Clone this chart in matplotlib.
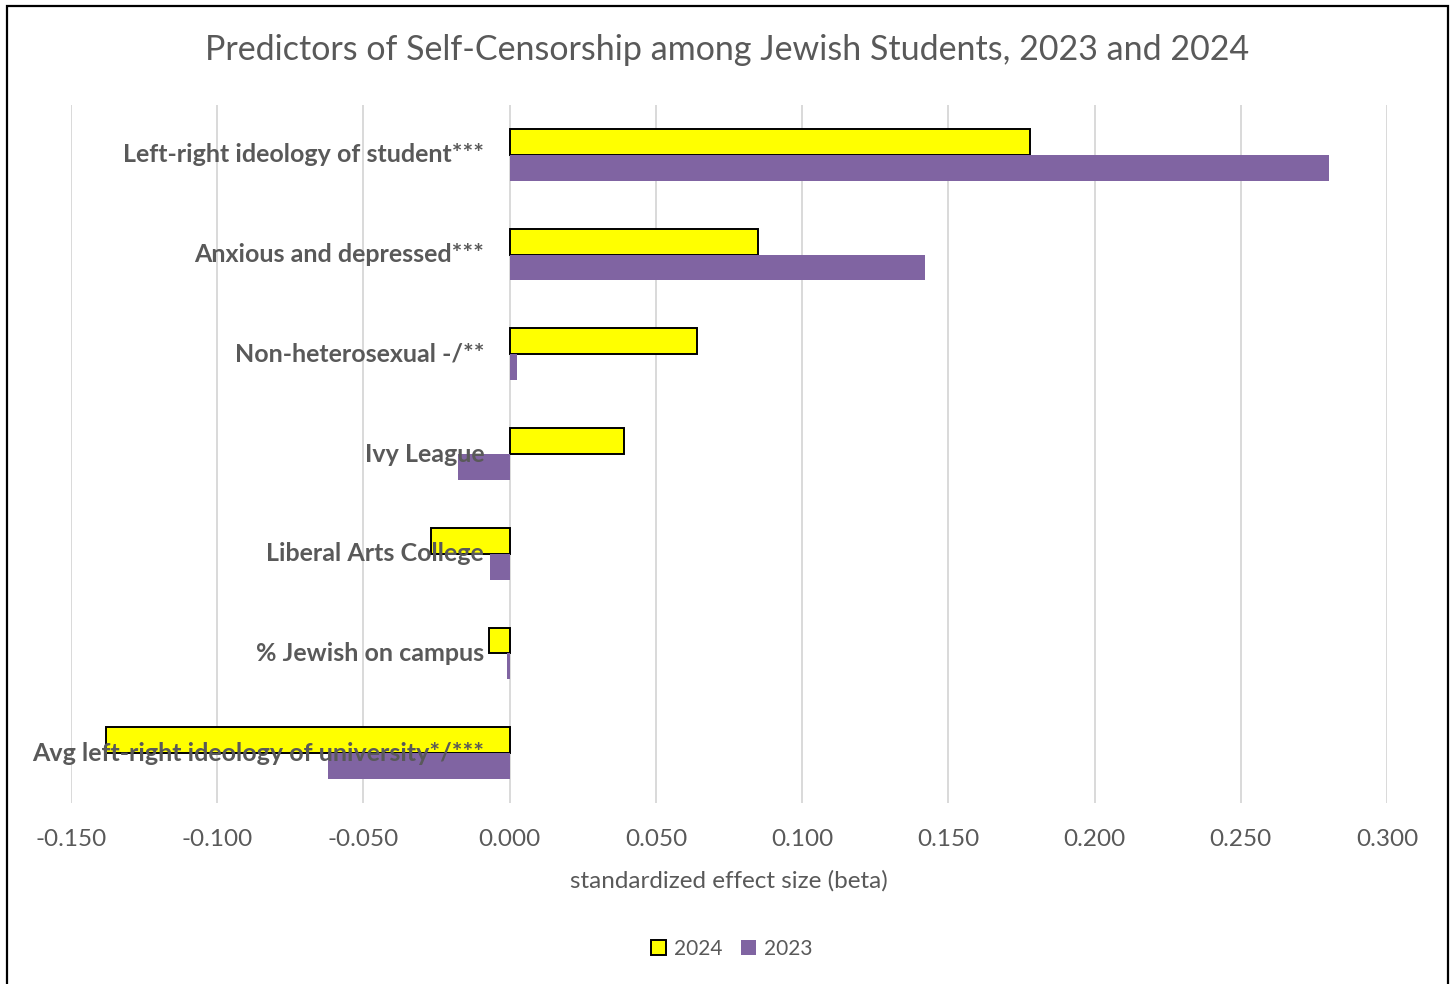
import numpy as np
import matplotlib.pyplot as plt
from matplotlib.patches import Patch, Rectangle

plt.rcParams["font.family"] = ["Lato", "DejaVu Sans"]

# predictors, top to bottom
predictors = [
    "Left-right ideology of student***",
    "Anxious and depressed***",
    "Non-heterosexual -/**",
    "Ivy League",
    "Liberal Arts College",
    "% Jewish on campus",
    "Avg left-right ideology of university*/***",
]
beta_2024 = [0.178, 0.085, 0.064, 0.039, -0.027, -0.007, -0.138]
beta_2023 = [0.280, 0.142, 0.0025, -0.0175, -0.0067, -0.0009, -0.062]
xticks = [-0.15, -0.10, -0.05, 0.0, 0.05, 0.10, 0.15, 0.20, 0.25, 0.30]

GREY = "#595959"
YELLOW = "#FFFF00"
PURPLE = "#8064A2"

fig = plt.figure(figsize=(14.55, 9.84), dpi=100)
ax = fig.add_axes([71 / 1455, 1 - 803 / 984, (1387 - 71) / 1455, (803 - 105) / 984])

n = len(predictors)
y = np.arange(n)[::-1].astype(float)
h = 0.26

ax.barh(y + h / 2, beta_2024, height=h, color=YELLOW, edgecolor="black",
        linewidth=1.4, zorder=3, label="2024")
ax.barh(y - h / 2, beta_2023, height=h, color=PURPLE, edgecolor="none",
        zorder=3, label="2023")

# category names sit just left of the zero line, on top of the bars
for yi, name in zip(y, predictors):
    ax.text(-0.0087, yi, name, ha="right", va="center", fontsize=18,
            fontweight="bold", color=GREY, zorder=5)

ax.set_xlim(-0.15, 0.30)
ax.set_ylim(-0.5, n - 0.5)
ax.set_xticks(xticks)
ax.set_xticklabels([f"{t:.3f}" for t in xticks])
ax.set_yticks([])
ax.tick_params(axis="x", length=0, pad=19, labelsize=17.5, labelcolor=GREY)
ax.grid(axis="x", color="#D9D9D9", linewidth=1.4, zorder=0)
ax.set_axisbelow(True)
for s in ax.spines.values():
    s.set_visible(False)

ax.set_xlabel("standardized effect size (beta)", fontsize=17.5, color=GREY, labelpad=14)

fig.text(0.5, 1 - 50 / 984, "Predictors of Self-Censorship among Jewish Students, 2023 and 2024",
         ha="center", va="center", fontsize=24.5, color=GREY)

handles = [Patch(facecolor=YELLOW, edgecolor="black", linewidth=1.4, label="2024"),
           Patch(facecolor=PURPLE, edgecolor="none", label="2023")]
fig.legend(handles=handles, loc="center", bbox_to_anchor=(0.503, 1 - 949 / 984),
           ncol=2, frameon=False, fontsize=15, labelcolor=GREY,
           handlelength=0.7, handleheight=0.7, handletextpad=0.4, columnspacing=0.9)

# outer chart border
fig.patches.append(Rectangle((7 / 1455, -0.05), (1448 - 7) / 1455, 1 - 6 / 984 + 0.05,
                             transform=fig.transFigure, fill=False,
                             edgecolor="black", linewidth=1.6, clip_on=False))

fig.savefig("out.png", dpi=100, facecolor="white")
